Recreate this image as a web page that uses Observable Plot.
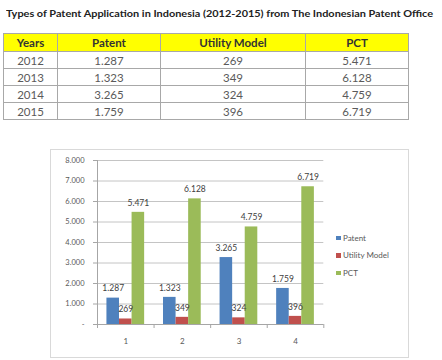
<!DOCTYPE html>
<html><head><meta charset="utf-8">
<script src="https://cdn.jsdelivr.net/npm/d3@7"></script>
<script src="https://cdn.jsdelivr.net/npm/@observablehq/plot@0.6"></script>
<style>
body{margin:0;background:#fff;width:442px;height:360px;position:relative;overflow:hidden;font-family:Lato,sans-serif}
#title{position:absolute;left:6px;top:0px}
#tbl{position:absolute;left:3px;top:33px;border-collapse:collapse;table-layout:fixed;border:1.5px solid #8a8a8a;font-family:Lato,sans-serif;font-size:11.5px;color:#5a5a5a}
#tbl td,#tbl th{border:1px solid #a8a8a8;text-align:center;padding:0;line-height:15px}
#tbl th{background:#ffff00;font-weight:bold;color:#333;height:17px}
#tbl td{height:16px}
#legend{position:absolute;left:336px;top:229px;z-index:5;font-family:Lato,sans-serif;font-size:8px;color:#595959}
#legend .item{line-height:12px;display:flex;align-items:center;height:17.6px}
#legend .sw{width:4.5px;height:4.5px;margin-right:2.5px}
</style></head><body>
<svg id="title" width="436" height="24"><text x="0" y="17" textLength="427" lengthAdjust="spacingAndGlyphs" font-family="Lato, sans-serif" font-weight="bold" font-size="10" fill="#222">Types of Patent Application in Indonesia (2012-2015) from The Indonesian Patent Office</text></svg>
<table id="tbl"></table>
<div id="chartwrap"></div>
<div id="legend"></div>
<script>
const categories = ["1", "2", "3", "4"];
const years = [2012, 2013, 2014, 2015];
const series = ["Patent", "Utility Model", "PCT"];
const patent = [1287, 1323, 3265, 1759];
const utility = [269, 349, 324, 396];
const pct = [5471, 6128, 4759, 6719];
const yTicks = [0, 1000, 2000, 3000, 4000, 5000, 6000, 7000, 8000];
const colors = ["#4F81BD", "#C0504D", "#9BBB59"];

const locale = d3.formatLocale({decimal: ",", thousands: ".", grouping: [3], currency: ["", ""]});
const fmt = locale.format(",d");
const values = [patent, utility, pct];

// Table
const colW = [54, 103, 145, 103];
const tbl = document.getElementById("tbl");
const cg = document.createElement("colgroup");
colW.forEach(w => { const c = document.createElement("col"); c.style.width = w + "px"; cg.appendChild(c); });
tbl.appendChild(cg);
const hr = document.createElement("tr");
["Years", ...series].forEach(h => { const th = document.createElement("th"); th.textContent = h; hr.appendChild(th); });
tbl.appendChild(hr);
years.forEach((y, i) => {
  const tr = document.createElement("tr");
  [String(y), ...values.map(v => fmt(v[i]))].forEach(t => { const td = document.createElement("td"); td.textContent = t; tr.appendChild(td); });
  tbl.appendChild(tr);
});

// Chart
const gap = 1 / 6, bw = 2 / 9;
const bars = categories.flatMap((c, i) => series.map((s, j) => ({cat: c, i, series: s, j, value: values[j][i]})));
const chart = Plot.plot({
  width: 359, height: 209,
  marginLeft: 47, marginRight: 85.7, marginTop: 11, marginBottom: 34,
  x: {domain: [0, categories.length]},
  y: {domain: [0, 8000]},
  color: {domain: series, range: colors},
  style: {fontFamily: "Lato, sans-serif", fontSize: "7.5px", color: "#595959", background: "white"},
  marks: [
    Plot.gridY(yTicks, {stroke: "#c4c4c4", strokeOpacity: 1}),
    Plot.rectY(bars, {x1: d => d.i + gap + d.j * bw, x2: d => d.i + gap + (d.j + 1) * bw, y: "value", fill: "series"}),
    Plot.ruleX([0], {stroke: "#a6a6a6"}),
    Plot.ruleY([0], {stroke: "#a6a6a6"}),
    Plot.axisY(yTicks, {tickSize: 4, tickPadding: 9, tickFormat: d => d === 0 ? "-" : fmt(d), stroke: "#a6a6a6", label: null}),
    Plot.axisX(d3.range(categories.length + 1), {tickSize: 4, tickFormat: () => "", stroke: "#a6a6a6", label: null}),
    Plot.axisX(categories.map((c, i) => i + 0.5), {tickSize: 0, tickPadding: 14, tickFormat: d => categories[Math.floor(d)], fontSize: 8, label: null}),
    Plot.text(bars, {x: d => d.i + gap + (d.j + 0.5) * bw, y: "value", text: d => fmt(d.value), dy: -9.5, fontSize: 8.5, fill: "#404040"})
  ]
});
chart.style.position = "absolute";
chart.style.left = "50px";
chart.style.top = "149px";
chart.style.outline = "1px solid #d9d9d9";
chart.style.outlineOffset = "-1px";
chart.style.overflow = "visible";
document.getElementById("chartwrap").appendChild(chart);

// Legend
const lg = document.getElementById("legend");
series.forEach((s, j) => {
  const it = document.createElement("div"); it.className = "item";
  const sw = document.createElement("span"); sw.className = "sw"; sw.style.background = colors[j];
  const tx = document.createElement("span"); tx.textContent = s;
  it.appendChild(sw); it.appendChild(tx); lg.appendChild(it);
});
</script>
</body></html>
